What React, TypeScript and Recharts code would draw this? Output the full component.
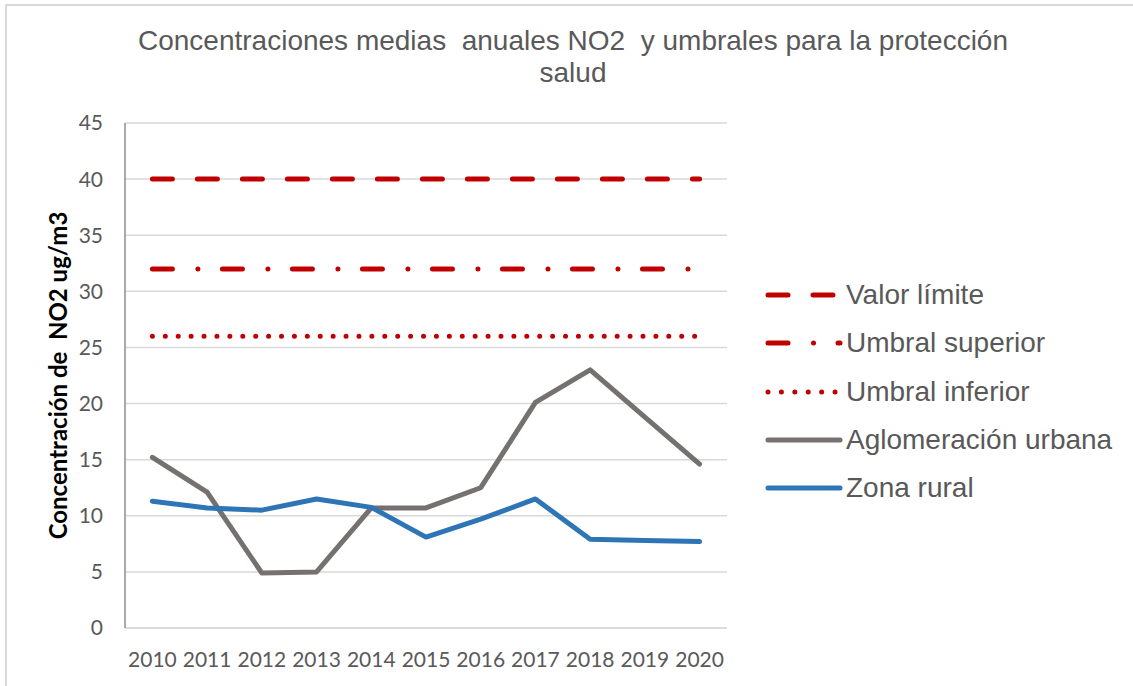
import React from "react";
import { LineChart, Line, XAxis, YAxis, CartesianGrid, Legend } from "recharts";

const years = ["2010", "2011", "2012", "2013", "2014", "2015", "2016", "2017", "2018", "2019", "2020"];
const valorLimite = [40, 40, 40, 40, 40, 40, 40, 40, 40, 40, 40];
const umbralSuperior = [32, 32, 32, 32, 32, 32, 32, 32, 32, 32, 32];
const umbralInferior = [26, 26, 26, 26, 26, 26, 26, 26, 26, 26, 26];
const aglomeracion = [15.2, 12.1, 4.9, 5.0, 10.7, 10.7, 12.5, 20.1, 23.0, 18.8, 14.6];
const rural = [11.3, 10.7, 10.5, 11.5, 10.75, 8.1, 9.7, 11.5, 7.9, 7.8, 7.7];
const yTicks = [0, 5, 10, 15, 20, 25, 30, 35, 40, 45];

const data = years.map((y, i) => ({
  year: y,
  valor: valorLimite[i],
  sup: umbralSuperior[i],
  inf: umbralInferior[i],
  aglo: aglomeracion[i],
  rural: rural[i],
}));

const RED = "#c00000";
const GRAY = "#767171";
const BLUE = "#2e75b6";
const TXT = "#595959";

const series = [
  { key: "valor", name: "Valor límite", color: RED, dash: "20 25" },
  { key: "sup", name: "Umbral superior", color: RED, dash: "20 25.5 0.01 24.5" },
  { key: "inf", name: "Umbral inferior", color: RED, dash: "0.01 12.9" },
  { key: "aglo", name: "Aglomeración urbana", color: GRAY, dash: undefined },
  { key: "rural", name: "Zona rural", color: BLUE, dash: undefined },
];

const legendDash: Record<string, string | undefined> = {
  valor: "20 25",
  sup: "20 25.5 0.01 24.5",
  inf: "0.01 13.4",
};

const LegendContent = () => (
  <div style={{ display: "flex", flexDirection: "column" }}>
    {series.map((s) => (
      <div key={s.key} style={{ display: "flex", alignItems: "center", height: 48.3 }}>
        <svg width={78} height={20} style={{ display: "block" }}>
          <line
            x1={3}
            x2={75}
            y1={10}
            y2={10}
            stroke={s.color}
            strokeWidth={5}
            strokeLinecap="round"
            strokeDasharray={legendDash[s.key]}
          />
        </svg>
        <span
          style={{
            fontFamily: "'Liberation Sans', Arial, sans-serif",
            fontSize: 28,
            color: TXT,
            marginLeft: 3,
            whiteSpace: "nowrap",
          }}
        >
          {s.name}
        </span>
      </div>
    ))}
  </div>
);

const YLabel = (props: any) => {
  const vb = props.viewBox || {};
  const cx = vb.x + 57;
  const cy = vb.y + vb.height / 2;
  return (
    <text
      x={cx}
      y={cy}
      transform={`rotate(-90 ${cx} ${cy})`}
      textAnchor="middle"
      dominantBaseline="central"
      style={{ fontFamily: "Lato, sans-serif", fontWeight: 700, fontSize: 24, fill: "#000", whiteSpace: "pre" }}
    >
      {"Concentración de  NO2 ug/m3"}
    </text>
  );
};

export default function App() {
  return (
    <div
      style={{
        position: "absolute",
        left: 0,
        top: 0,
        width: 1133,
        height: 686,
        background: "#fff",
        overflow: "hidden",
      }}
    >
      <div
        style={{
          position: "absolute",
          left: 5,
          top: 4,
          width: 1140,
          height: 700,
          borderTop: "2px solid #d9d9d9",
          borderLeft: "2px solid #d9d9d9",
        }}
      />
      <div
        style={{
          position: "absolute",
          left: 0,
          top: 25,
          width: 1146,
          textAlign: "center",
          fontFamily: "'Liberation Sans', Arial, sans-serif",
          fontSize: 28,
          lineHeight: "32px",
          color: TXT,
          whiteSpace: "pre",
        }}
      >
        {"Concentraciones medias  anuales NO2  y umbrales para la protección\nsalud"}
      </div>
      <div style={{ position: "absolute", left: 0, top: 0 }}>
        <LineChart width={1133} height={686} data={data} margin={{ top: 123, right: 406, bottom: 0, left: 0 }}>
          <CartesianGrid vertical={false} stroke="#d9d9d9" strokeWidth={1.5} />
          <XAxis
            dataKey="year"
            height={58}
            padding={{ left: 27.4, right: 27.4 }}
            axisLine={{ stroke: "#d9d9d9", strokeWidth: 1.5 }}
            tickLine={false}
            tickSize={0}
            tickMargin={24}
            interval={0}
            tick={{ fontFamily: "Lato, sans-serif", fontSize: 21, fill: TXT }}
          />
          <YAxis
            width={125}
            domain={[0, 45]}
            ticks={yTicks}
            interval={0}
            axisLine={{ stroke: "#8c8c8c", strokeWidth: 1.5 }}
            tickLine={false}
            tickSize={0}
            tickMargin={22}
            tick={{ fontFamily: "Lato, sans-serif", fontSize: 21, fill: TXT }}
            label={<YLabel />}
          />
          {series.map((s) => (
            <Line
              key={s.key}
              dataKey={s.key}
              name={s.name}
              type="linear"
              stroke={s.color}
              strokeWidth={5}
              strokeLinecap="round"
              strokeLinejoin="round"
              strokeDasharray={s.dash}
              dot={false}
              activeDot={false}
              isAnimationActive={false}
            />
          ))}
          <Legend
            layout="vertical"
            align="center"
            verticalAlign="middle"
            content={<LegendContent />}
            wrapperStyle={{ left: 765, top: 271, width: 368 }}
          />
        </LineChart>
      </div>
    </div>
  );
}
